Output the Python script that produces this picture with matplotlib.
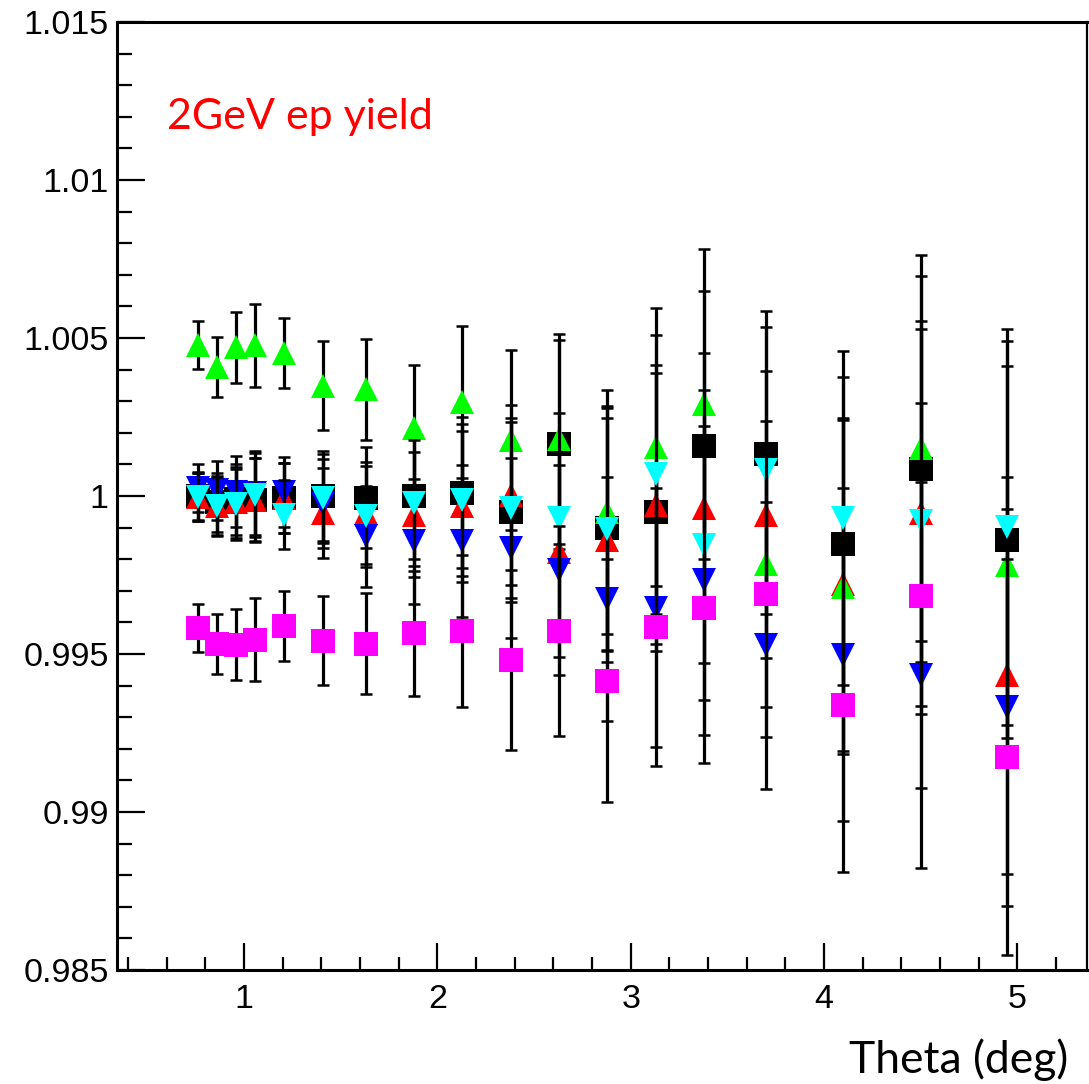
import matplotlib.pyplot as plt
from matplotlib.ticker import MultipleLocator

# Theta bins (deg)
theta = [0.762, 0.860, 0.959, 1.057, 1.207, 1.408, 1.631, 1.879, 2.127,
         2.381, 2.629, 2.877, 3.130, 3.378, 3.699, 4.097, 4.501, 4.945]

# Statistical error per bin (same for all series)
err = [0.00076, 0.00094, 0.00112, 0.00132, 0.00110, 0.00141, 0.00160, 0.00198, 0.00240,
       0.00285, 0.00332, 0.00386, 0.00440, 0.00490, 0.00453, 0.00528, 0.00610, 0.00627]

# Yield ratios
black = [1.00000, 0.99980, 0.99990, 0.99987, 0.99994, 1.00000, 0.99995, 1.00000, 1.00011,
         0.99950, 1.00163, 0.99898, 0.99948, 1.00159, 1.00132, 0.99847, 1.00085, 0.99862]
red = [0.99998, 0.99969, 0.99980, 0.99988, 0.99994, 0.99946, 0.99946, 0.99941, 0.99967,
       1.00002, 0.99823, 0.99862, 0.99973, 0.99961, 0.99941, 0.99720, 0.99945, 0.99432]
green = [1.00479, 1.00408, 1.00471, 1.00477, 1.00452, 1.00349, 1.00337, 1.00215, 1.00297,
         1.00177, 1.00181, 0.99949, 1.00155, 1.00291, 0.99785, 0.99712, 1.00152, 0.99783]
blue = [1.00025, 1.00018, 1.00013, 1.00010, 1.00013, 0.99975, 0.99872, 0.99857, 0.99857,
        0.99836, 0.99767, 0.99675, 0.99646, 0.99733, 0.99527, 0.99498, 0.99433, 0.99331]
cyan = [0.99998, 0.99967, 0.99974, 1.00003, 0.99941, 0.99993, 0.99936, 0.99978, 0.99987,
        0.99963, 0.99930, 0.99894, 1.00068, 0.99844, 1.00081, 0.99930, 0.99920, 0.99901]
magenta = [0.99583, 0.99532, 0.99529, 0.99545, 0.99589, 0.99542, 0.99532, 0.99566, 0.99573,
           0.99482, 0.99573, 0.99416, 0.99586, 0.99645, 0.99689, 0.99338, 0.99685, 0.99175]

series = [
    (black, 's', '#000000'),
    (red, '^', '#ff0000'),
    (green, '^', '#00ff00'),
    (blue, 'v', '#0000ff'),
    (cyan, 'v', '#00ffff'),
    (magenta, 's', '#ff00ff'),
]

fig = plt.figure(figsize=(10.89, 10.84), dpi=100)
ax = fig.add_axes([0.1074, 0.1052, 0.8906, 0.8745])

for i, (vals, mk, col) in enumerate(series):
    ax.errorbar(theta, vals, yerr=err, fmt='none', ecolor='black',
                elinewidth=2.3, capsize=4, capthick=1.8, zorder=2 + i)
    ax.plot(theta, vals, linestyle='none', marker=mk, markersize=17.5,
            color=col, markeredgewidth=0, zorder=2.5 + i)

ax.set_xlim(0.343, 5.359)
ax.set_ylim(0.985, 1.015)

ax.xaxis.set_major_locator(MultipleLocator(1))
ax.xaxis.set_minor_locator(MultipleLocator(0.2))
ax.yaxis.set_minor_locator(MultipleLocator(0.001))
ax.set_yticks([0.985, 0.99, 0.995, 1.0, 1.005, 1.01, 1.015])
ax.set_yticklabels(['0.985', '0.99', '0.995', '1', '1.005', '1.01', '1.015'])

ax.tick_params(which='both', direction='in', top=False, right=False,
               labelsize=24.5, labelfontfamily='Liberation Sans')
ax.tick_params(axis='x', which='major', length=19.5, width=1.6, pad=10)
ax.tick_params(axis='x', which='minor', length=9.5, width=1.6)
ax.tick_params(axis='y', which='major', length=20.5, width=1.6, pad=6)
ax.tick_params(axis='y', which='minor', length=10.5, width=1.6)

for s in ['left', 'bottom', 'top']:
    ax.spines[s].set_linewidth(2.2)
ax.spines['right'].set_linewidth(1.6)

ax.text(0.052, 0.9, '2GeV ep yield', transform=ax.transAxes, color='red',
        fontsize=31, family='Lato', va='center')
fig.text(0.981, 0.003, 'Theta (deg)', ha='right', va='bottom',
         fontsize=32, family='Lato')

plt.savefig('out.png', dpi=100)
